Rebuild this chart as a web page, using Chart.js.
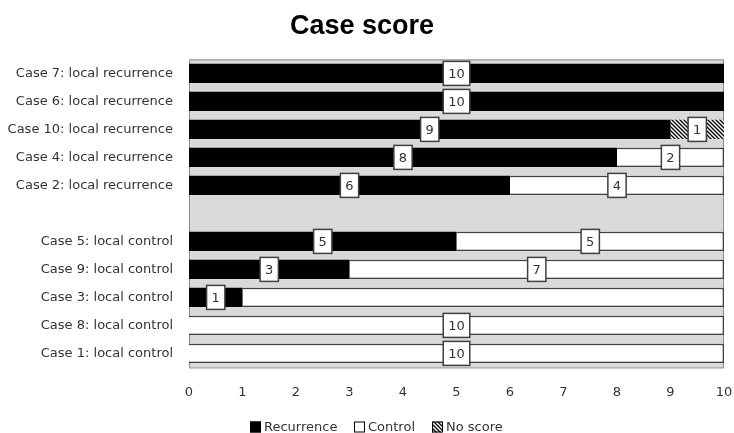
<!DOCTYPE html>
<html>
<head>
<meta charset="utf-8">
<title>Case score</title>
<script src="https://cdn.jsdelivr.net/npm/chart.js@4.4.1/dist/chart.umd.min.js"></script>
<style>
  html, body { margin: 0; padding: 0; background: #fff; }
  #wrap { width: 734px; height: 433px; }
</style>
</head>
<body>
<div id="wrap"><canvas id="myChart" width="734" height="433"></canvas></div>
<script>
// rows top to bottom, the empty one is the gap between the two groups
var cases = ["Case 7: local recurrence", "Case 6: local recurrence", "Case 10: local recurrence",
  "Case 4: local recurrence", "Case 2: local recurrence", "",
  "Case 5: local control", "Case 9: local control", "Case 3: local control",
  "Case 8: local control", "Case 1: local control"];
var recurrence = [10, 10, 9, 8, 6, null, 5, 3, 1, 0, 0];
var control    = [0, 0, 0, 2, 4, null, 5, 7, 9, 10, 10];
var noScore    = [0, 0, 1, 0, 0, null, 0, 0, 0, 0, 0];
var xTicks = [0, 1, 2, 3, 4, 5, 6, 7, 8, 9, 10];
// value boxes that are not shown (Case 3, control)
var noLabel = ["1:8"];

var FONT = "'DejaVu Sans', sans-serif";

// diagonal hatch for "No score"
function hatch() {
  var c = document.createElement('canvas');
  c.width = 4; c.height = 4;
  var g = c.getContext('2d');
  g.fillStyle = '#fff';
  g.fillRect(0, 0, 4, 4);
  g.strokeStyle = '#000';
  g.lineWidth = 1.3;
  g.beginPath();
  g.moveTo(-1, -1); g.lineTo(5, 5);
  g.moveTo(-1, 3); g.lineTo(1, 5);
  g.moveTo(3, -1); g.lineTo(5, 1);
  g.stroke();
  return g.createPattern(c, 'repeat');
}
var hatchFill = hatch();

var plotBack = {
  id: 'plotBack',
  beforeDatasetsDraw: function(chart) {
    var a = chart.chartArea, ctx = chart.ctx;
    ctx.save();
    ctx.fillStyle = '#d9d9d9';
    ctx.fillRect(a.left, a.top, a.right - a.left, a.bottom - a.top);
    ctx.strokeStyle = '#8c8c8c';
    ctx.lineWidth = 1;
    ctx.strokeRect(a.left + 0.5, a.top + 0.5, a.right - a.left - 1, a.bottom - a.top);
    ctx.restore();
  }
};

var valueBoxes = {
  id: 'valueBoxes',
  afterDatasetsDraw: function(chart) {
    var ctx = chart.ctx;
    ctx.save();
    ctx.font = '13px ' + FONT;
    ctx.textAlign = 'center';
    ctx.textBaseline = 'middle';
    chart.data.datasets.forEach(function(ds, di) {
      chart.getDatasetMeta(di).data.forEach(function(bar, i) {
        var v = ds.data[i];
        if (!v || noLabel.indexOf(di + ':' + i) >= 0) return;
        var cx = (bar.x + bar.base) / 2, cy = bar.y;
        var t = String(v);
        var w = ctx.measureText(t).width + 10, h = 24;
        ctx.fillStyle = '#fff';
        ctx.fillRect(cx - w / 2, cy - h / 2, w, h);
        ctx.strokeStyle = '#404040';
        ctx.lineWidth = 1.5;
        ctx.strokeRect(cx - w / 2, cy - h / 2, w, h);
        ctx.fillStyle = '#333';
        ctx.fillText(t, cx, cy + 1);
      });
    });
    ctx.restore();
  }
};

// legend drawn by hand along the bottom
var bottomLegend = {
  id: 'bottomLegend',
  afterDraw: function(chart) {
    var ctx = chart.ctx, y = 427;
    var items = [
      { text: 'Recurrence', fill: '#000', x: 250 },
      { text: 'Control', fill: '#fff', x: 354 },
      { text: 'No score', fill: hatchFill, x: 432 }
    ];
    ctx.save();
    ctx.font = '13px ' + FONT;
    ctx.textBaseline = 'middle';
    items.forEach(function(it) {
      ctx.fillStyle = it.fill;
      ctx.fillRect(it.x, y - 5.5, 11, 11);
      ctx.strokeStyle = '#000';
      ctx.lineWidth = 1;
      ctx.strokeRect(it.x + 0.5, y - 5, 10, 10);
      ctx.fillStyle = '#333';
      ctx.fillText(it.text, it.x + 14, y + 1);
    });
    ctx.restore();
  }
};

new Chart(document.getElementById('myChart'), {
  type: 'bar',
  data: {
    labels: cases,
    datasets: [
      { label: 'Recurrence', data: recurrence, backgroundColor: '#000', borderWidth: 0 },
      { label: 'Control', data: control, backgroundColor: '#fff', borderColor: '#404040', borderWidth: 1.5 },
      { label: 'No score', data: noScore, backgroundColor: hatchFill, borderWidth: 0 }
    ]
  },
  options: {
    indexAxis: 'y',
    responsive: false,
    animation: false,
    barPercentage: 1,
    categoryPercentage: 0.69,
    layout: { padding: { left: 0, right: 10, bottom: 16 } },
    scales: {
      x: {
        stacked: true,
        min: 0, max: 10,
        afterBuildTicks: function(ax) { ax.ticks = xTicks.map(function(v) { return { value: v }; }); },
        afterFit: function(ax) { ax.paddingLeft = 0; ax.paddingRight = 0; },
        grid: { display: false, drawTicks: false },
        border: { display: false },
        ticks: { padding: 17, color: '#333', font: { family: FONT, size: 13 } }
      },
      y: {
        stacked: true,
        afterFit: function(ax) { ax.width = 189; },
        grid: { display: false, drawTicks: false },
        border: { display: false },
        ticks: { padding: 16, color: '#333', font: { family: FONT, size: 13 } }
      }
    },
    plugins: {
      title: {
        display: true,
        text: 'Case score',
        color: '#000',
        font: { family: "'Liberation Sans', Arial, sans-serif", size: 27, weight: 'bold' },
        padding: { top: 10, bottom: 17 }
      },
      legend: { display: false },
      tooltip: { enabled: false }
    }
  },
  plugins: [plotBack, valueBoxes, bottomLegend]
});
</script>
</body>
</html>
